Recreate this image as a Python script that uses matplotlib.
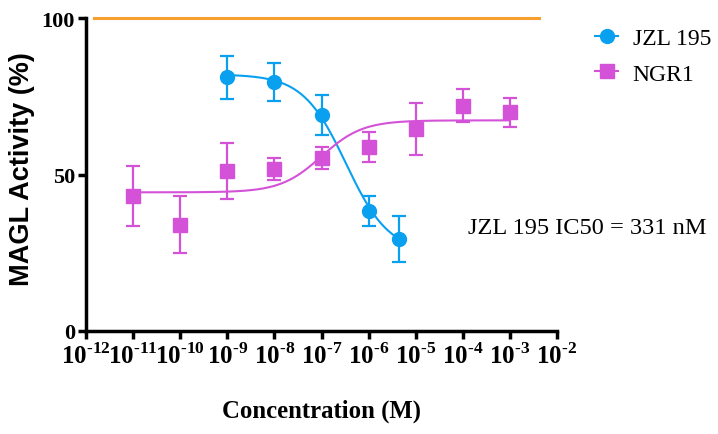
import numpy as np
import matplotlib
matplotlib.use('Agg')
import matplotlib.pyplot as plt
from matplotlib.lines import Line2D

# JZL 195 data (mean, error)
jzl_conc = [1e-9, 1e-8, 1e-7, 1e-6, 4.5e-6]
jzl_mean = [81.0, 79.6, 68.9, 38.4, 29.4]
jzl_err = [7.0, 6.0, 6.4, 4.8, 7.5]

# NGR1 data
ngr_conc = [1e-11, 1e-10, 1e-9, 1e-8, 1e-7, 1e-6, 1e-5, 1e-4, 1e-3]
ngr_mean = [43.1, 34.0, 51.2, 51.8, 55.3, 58.9, 64.5, 72.0, 69.9]
ngr_err = [9.5, 9.2, 9.0, 3.5, 3.5, 4.8, 8.3, 5.2, 4.6]

# fitted curve parameters (bottom, top, ec50, hill)
jzl_fit = (25.0, 82.0, 3.31e-7, 0.95)
ngr_fit = (44.3, 67.3, 1e-7, 1.0)

# control line at 100 %
ctrl_x = [1.5e-12, 4.2e-3]
ctrl_y = [100, 100]

exps = list(range(-12, -1))
xticks = [10.0 ** p for p in exps]
xticklabels = [r'$\mathbf{10}^{\mathbf{\text{-}%d}}$' % (-p) for p in exps]

blue = '#0aa0f0'
mag = '#d452d8'
orange = '#f7a030'

plt.rcParams['mathtext.fontset'] = 'custom'
plt.rcParams['mathtext.rm'] = 'Liberation Serif:bold'
plt.rcParams['mathtext.bf'] = 'Liberation Serif:bold'
plt.rcParams['font.family'] = 'Liberation Serif'

fig = plt.figure(figsize=(7.18, 4.35), dpi=100)
ax = fig.add_axes([0.1198, 0.2368, 0.656, 0.7195])

ax.plot(ctrl_x, ctrl_y, color=orange, lw=2.2, clip_on=False)

x1 = np.logspace(-9, np.log10(jzl_conc[-1]), 200)
b, t, c, h = jzl_fit
ax.plot(x1, b + (t - b) / (1 + (x1 / c) ** h), color=blue, lw=1.5)
x2 = np.logspace(-11, -3, 200)
b, t, c, h = ngr_fit
ax.plot(x2, b + (t - b) / (1 + (c / x2) ** h), color=mag, lw=1.5)

ax.errorbar(jzl_conc, jzl_mean, yerr=jzl_err, fmt='o', color=blue, ms=10,
            capsize=5, elinewidth=1.6, capthick=1.6)
ax.errorbar(ngr_conc, ngr_mean, yerr=ngr_err, fmt='s', color=mag, ms=10,
            capsize=5, elinewidth=1.6, capthick=1.6)

ax.set_xscale('log')
ax.set_xlim(1e-12, 1e-2)
ax.set_ylim(0, 100)
ax.set_xticks(xticks)
ax.set_xticklabels(xticklabels, fontsize=18)
ax.minorticks_off()
ax.set_yticks([0, 50, 100])
ax.set_yticklabels(['0', '50', '100'], fontsize=16, fontweight='bold')

for s in ['top', 'right']:
    ax.spines[s].set_visible(False)
for s in ['left', 'bottom']:
    ax.spines[s].set_linewidth(2.5)
ax.tick_params(direction='out', length=6, width=2.5, pad=2)

ax.set_ylabel('MAGL Activity (%)', fontsize=19.5, fontweight='bold',
              family='Liberation Sans')
ax.yaxis.set_label_coords(-0.108, 0.522)
ax.set_xlabel('Concentration (M)', fontsize=17.8, fontweight='bold', labelpad=22)

ax.text(0.811, 0.332, 'JZL 195 IC50 = 331 nM', transform=ax.transAxes, fontsize=17.6,
        va='center', ha='left')

handles = [Line2D([], [], color=blue, marker='o', ms=10, lw=1.5),
           Line2D([], [], color=mag, marker='s', ms=10, lw=1.5)]
ax.legend(handles, ['JZL 195', 'NGR1'], loc='upper left', bbox_to_anchor=(1.06, 1.0),
          frameon=False, fontsize=17, handlelength=1.0, handletextpad=0.6,
          labelspacing=0.6, borderaxespad=0)

fig.savefig('out.png', dpi=100)
